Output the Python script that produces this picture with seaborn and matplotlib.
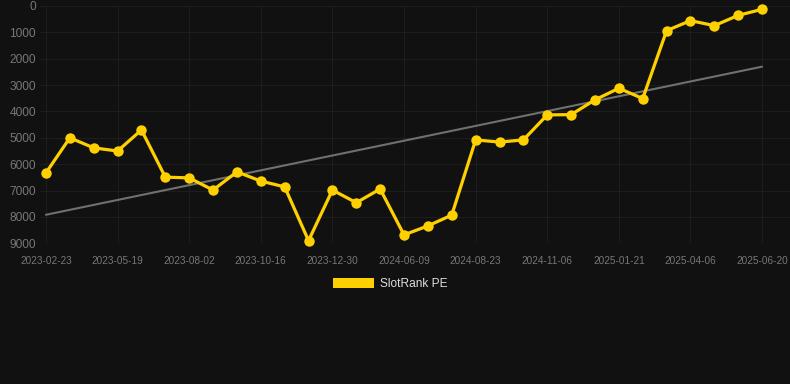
import numpy as np
import pandas as pd
import matplotlib
matplotlib.use("Agg")
import matplotlib.pyplot as plt
import seaborn as sns
from matplotlib.patches import Patch

# SlotRank PE history (rank, lower is better)
dates = ['2023-02-23', '2023-03-22', '2023-04-20', '2023-05-19', '2023-06-13', '2023-07-08',
         '2023-08-02', '2023-08-27', '2023-09-21', '2023-10-16', '2023-11-10', '2023-12-05',
         '2023-12-30', '2024-01-24', '2024-05-15', '2024-06-09', '2024-07-04', '2024-07-29',
         '2024-08-23', '2024-09-17', '2024-10-12', '2024-11-06', '2024-12-01', '2024-12-26',
         '2025-01-21', '2025-02-15', '2025-03-12', '2025-04-06', '2025-05-01', '2025-05-26',
         '2025-06-20']
ranks = [6330, 5000, 5380, 5500, 4700, 6490, 6520, 6980, 6290, 6640, 6860, 8900,
         6980, 7460, 6940, 8680, 8340, 7930, 5080, 5160, 5080, 4130, 4120, 3560,
         3120, 3510, 935, 555, 745, 355, 125]
y_ticks = [0, 1000, 2000, 3000, 4000, 5000, 6000, 7000, 8000, 9000]

BG = '#111111'
GOLD = '#ffd000'

df = pd.DataFrame({'idx': np.arange(len(dates)), 'rank': ranks, 'date': dates})

# linear trend over the series
coef = np.polyfit(df['idx'], df['rank'], 1)
df['trend'] = np.polyval(coef, df['idx'])

sns.set_style('dark')
plt.rcParams['font.family'] = ['Liberation Sans', 'DejaVu Sans']

fig = plt.figure(figsize=(7.9, 3.84), dpi=100, facecolor=BG)
ax = fig.add_axes([40 / 790, (384 - 243.3) / 384, 750 / 790, 237.3 / 384])
ax.set_facecolor(BG)

sns.lineplot(data=df, x='idx', y='trend', ax=ax, color='#707070', linewidth=1.5)
sns.lineplot(data=df, x='idx', y='rank', ax=ax, color=GOLD, linewidth=2.3,
             marker='o', markersize=7.5, markeredgewidth=0, clip_on=False)

ax.set_xlim(-0.25, 31.17)
ax.set_ylim(9000, 0)
ax.set_yticks(y_ticks)
ax.set_yticklabels([str(v) for v in y_ticks], fontsize=8.6, color='#777777')
tick_pos = df['idx'][::3]
ax.set_xticks(tick_pos)
ax.set_xticklabels(df['date'][::3], fontsize=7.2, color='#777777')
ax.tick_params(axis='x', length=6, color='#1c1c1c', pad=3)
ax.tick_params(axis='y', length=0, pad=3)
ax.grid(True, color='#1d1d1d', linewidth=0.8)
ax.set_xlabel('')
ax.set_ylabel('')
for s in ax.spines.values():
    s.set_visible(False)

fig.legend(handles=[Patch(facecolor=GOLD, edgecolor='none', label='SlotRank PE')],
           loc='center', bbox_to_anchor=(390 / 790, 1 - 284 / 384), frameon=False,
           fontsize=8.6, labelcolor='#dddddd', handlelength=3.4, handleheight=1.0,
           handletextpad=0.5)

fig.savefig('out.png', dpi=100, facecolor=BG)
